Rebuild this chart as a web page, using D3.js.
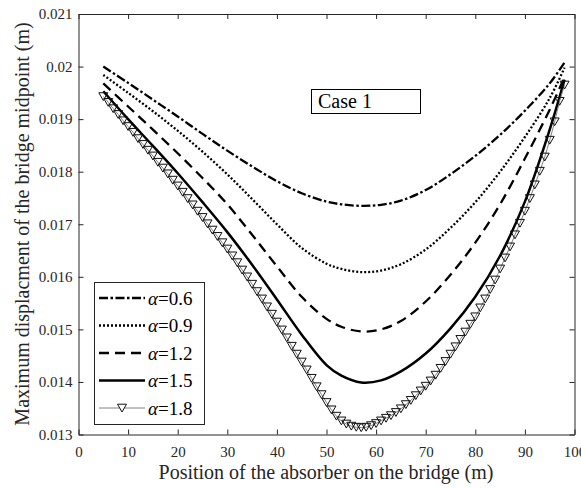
<!DOCTYPE html>
<html>
<head>
<meta charset="UTF-8">
<title>Case 1 // maximum displacement</title>
<script src="https://d3js.org/d3.v7.min.js"></script>
<style>
  body { margin: 0; background: #fff; }
  svg text { font-family: "Liberation Serif", "Times New Roman", serif; }
</style>
</head>
<body>
<div id="chart"></div>
<script>
// ---- data ----
// absorber positions (m) used for the plain curves
var positions = [5, 10, 15, 20, 25, 30, 35, 40, 45, 50, 53, 57, 61, 65, 70, 75, 80, 85, 90, 95, 98];

var alpha06 = [0.02000, 0.01969, 0.01937, 0.01905, 0.01872, 0.01840, 0.01810, 0.01782, 0.01759, 0.01743, 0.01738,
               0.01735, 0.01737, 0.01745, 0.01765, 0.01795, 0.01830, 0.01870, 0.01916, 0.01968, 0.02008];
var alpha09 = [0.01984, 0.01950, 0.01915, 0.01878, 0.01838, 0.01795, 0.01748, 0.01700, 0.01655, 0.01625, 0.01615,
               0.01609, 0.01612, 0.01624, 0.01652, 0.01693, 0.01742, 0.01800, 0.01866, 0.01940, 0.01998];
var alpha12 = [0.01968, 0.01924, 0.01880, 0.01835, 0.01788, 0.01738, 0.01680, 0.01620, 0.01562, 0.01520, 0.01505,
               0.01496, 0.01500, 0.01516, 0.01553, 0.01604, 0.01665, 0.01738, 0.01825, 0.01918, 0.01980];
var alpha15 = [0.01953, 0.01900, 0.01849, 0.01797, 0.01742, 0.01685, 0.01623, 0.01557, 0.01490, 0.01432, 0.01412,
               0.01399, 0.01403, 0.01420, 0.01454, 0.01502, 0.01562, 0.01640, 0.01743, 0.01880, 0.01975];

// the marked curve has a point at every metre
var positionsFine = [ 5,  6,  7,  8,  9, 10, 11, 12, 13, 14,
                     15, 16, 17, 18, 19, 20, 21, 22, 23, 24,
                     25, 26, 27, 28, 29, 30, 31, 32, 33, 34,
                     35, 36, 37, 38, 39, 40, 41, 42, 43, 44,
                     45, 46, 47, 48, 49, 50, 51, 52, 53, 54,
                     55, 56, 57, 58, 59, 60, 61, 62, 63, 64,
                     65, 66, 67, 68, 69, 70, 71, 72, 73, 74,
                     75, 76, 77, 78, 79, 80, 81, 82, 83, 84,
                     85, 86, 87, 88, 89, 90, 91, 92, 93, 94,
                     95, 96, 97, 98];
var alpha18 = [0.01943, 0.01932, 0.01920, 0.01909, 0.01897, 0.01886, 0.01875, 0.01863, 0.01852, 0.01841,
               0.01830, 0.01818, 0.01807, 0.01796, 0.01784, 0.01773, 0.01761, 0.01749, 0.01737, 0.01725,
               0.01713, 0.01701, 0.01689, 0.01677, 0.01665, 0.01653, 0.01640, 0.01627, 0.01613, 0.01600,
               0.01586, 0.01572, 0.01558, 0.01543, 0.01529, 0.01514, 0.01499, 0.01484, 0.01468, 0.01453,
               0.01438, 0.01423, 0.01407, 0.01391, 0.01376, 0.01361, 0.01347, 0.01335, 0.01326, 0.01320,
               0.01316, 0.01314, 0.01313, 0.01314, 0.01317, 0.01321, 0.01326, 0.01331, 0.01336, 0.01342,
               0.01349, 0.01357, 0.01365, 0.01374, 0.01383, 0.01392, 0.01402, 0.01413, 0.01426, 0.01439,
               0.01453, 0.01467, 0.01481, 0.01495, 0.01510, 0.01524, 0.01541, 0.01558, 0.01576, 0.01594,
               0.01615, 0.01636, 0.01657, 0.01680, 0.01702, 0.01725, 0.01749, 0.01775, 0.01801, 0.01828,
               0.01860, 0.01895, 0.01934, 0.01965];

var seriesNames = ["0.6", "0.9", "1.2", "1.5", "1.8"];
var xTicks = [0, 10, 20, 30, 40, 50, 60, 70, 80, 90, 100];
var yTicks = [0.013, 0.014, 0.015, 0.016, 0.017, 0.018, 0.019, 0.02, 0.021];
var yTickLabels = ["0.013", "0.014", "0.015", "0.016", "0.017", "0.018", "0.019", "0.02", "0.021"];

// ---- drawing ----
var W = 581, H = 488;
var axisColor = "#262626";

var svg = d3.select("#chart").append("svg")
  .attr("width", W)
  .attr("height", H);

var xScale = d3.scaleLinear().domain([0, 100]).range([78.5, 574.5]);
var yScale = d3.scaleLinear().domain([0.013, 0.021]).range([434.5, 14]);

var line = d3.line()
  .x(function(d) { return xScale(d[0]); })
  .y(function(d) { return yScale(d[1]); })
  .curve(d3.curveCatmullRom);

function pairs(xs, ys) {
  return xs.map(function(v, i) { return [v, ys[i]]; });
}

var styles = [
  {data: pairs(positions, alpha06), dash: "9,2.5,2.5,2.5", width: 2.3, color: "#000"},
  {data: pairs(positions, alpha09), dash: "2,2", width: 2.3, color: "#000"},
  {data: pairs(positions, alpha12), dash: "10,6", width: 2.3, color: "#000"},
  {data: pairs(positions, alpha15), dash: null, width: 2.5, color: "#000"},
  {data: pairs(positionsFine, alpha18), dash: null, width: 1, color: "#808080", marker: true}
];

var plot = svg.append("g");

styles.forEach(function(s) {
  plot.append("path")
    .datum(s.data)
    .attr("d", line)
    .attr("fill", "none")
    .attr("stroke", s.color)
    .attr("stroke-width", s.width)
    .attr("stroke-dasharray", s.dash);
});

var tri = "M-4.5,-3.8L4.5,-3.8L0,4Z";

plot.selectAll(".mk")
  .data(styles[4].data)
  .enter().append("path")
  .attr("class", "mk")
  .attr("d", tri)
  .attr("transform", function(d) { return "translate(" + xScale(d[0]) + "," + yScale(d[1]) + ")"; })
  .attr("fill", "none")
  .attr("stroke", "#111")
  .attr("stroke-width", 1);

// axes (ticks inward, box on all four sides)
function styleAxis(g) {
  g.attr("color", axisColor)
   .attr("font-family", "'Liberation Serif', 'Times New Roman', serif")
   .attr("font-size", 15);
  g.selectAll("text").attr("fill", axisColor);
}

svg.append("g")
  .attr("transform", "translate(0,434.5)")
  .call(d3.axisBottom(xScale).tickValues(xTicks).tickSizeInner(-5).tickSizeOuter(0).tickPadding(12))
  .call(styleAxis);

svg.append("g")
  .attr("transform", "translate(78.5,0)")
  .call(d3.axisLeft(yScale).tickValues(yTicks)
    .tickFormat(function(d, i) { return yTickLabels[i]; })
    .tickSizeInner(-5).tickSizeOuter(0).tickPadding(6))
  .call(styleAxis);

svg.append("g")
  .attr("transform", "translate(0,14)")
  .call(d3.axisTop(xScale).tickValues(xTicks).tickFormat("").tickSizeInner(-5).tickSizeOuter(0))
  .call(styleAxis);

svg.append("g")
  .attr("transform", "translate(574.5,0)")
  .call(d3.axisRight(yScale).tickValues(yTicks).tickFormat("").tickSizeInner(-5).tickSizeOuter(0))
  .call(styleAxis);

// axis titles
svg.append("text")
  .attr("x", 326)
  .attr("y", 479)
  .attr("text-anchor", "middle")
  .attr("font-size", 20)
  .attr("fill", axisColor)
  .text("Position of the absorber on the bridge (m)");

svg.append("text")
  .attr("transform", "translate(29,224) rotate(-90)")
  .attr("text-anchor", "middle")
  .attr("font-size", 20)
  .attr("fill", axisColor)
  .text("Maximum displacment of the bridge midpoint (m)");

// "Case 1" box
svg.append("rect")
  .attr("x", 311.5).attr("y", 89.5)
  .attr("width", 109).attr("height", 24)
  .attr("fill", "#fff")
  .attr("stroke", "#000")
  .attr("stroke-width", 1);

svg.append("text")
  .attr("x", 318)
  .attr("y", 108)
  .attr("font-size", 20)
  .attr("fill", "#000")
  .text("Case 1");

// legend
var legend = svg.append("g");
legend.append("rect")
  .attr("x", 94.5).attr("y", 282.5)
  .attr("width", 110).attr("height", 142)
  .attr("fill", "#fff")
  .attr("stroke", axisColor)
  .attr("stroke-width", 1);

var rowY = [298, 325.5, 353, 380.5, 408];

seriesNames.forEach(function(name, i) {
  var s = styles[i];
  legend.append("line")
    .attr("x1", 99).attr("x2", 145)
    .attr("y1", rowY[i]).attr("y2", rowY[i])
    .attr("stroke", s.color)
    .attr("stroke-width", s.width)
    .attr("stroke-dasharray", s.dash);
  if (s.marker) {
    legend.append("path")
      .attr("d", tri)
      .attr("transform", "translate(122," + rowY[i] + ")")
      .attr("fill", "#fff")
      .attr("stroke", "#111")
      .attr("stroke-width", 1);
  }
  var t = legend.append("text")
    .attr("x", 148)
    .attr("y", rowY[i] + 6.5)
    .attr("font-size", 19)
    .attr("fill", "#000");
  t.append("tspan").attr("font-style", "italic").text("\u03b1");
  t.append("tspan").text("=" + name);
});
</script>
</body>
</html>
